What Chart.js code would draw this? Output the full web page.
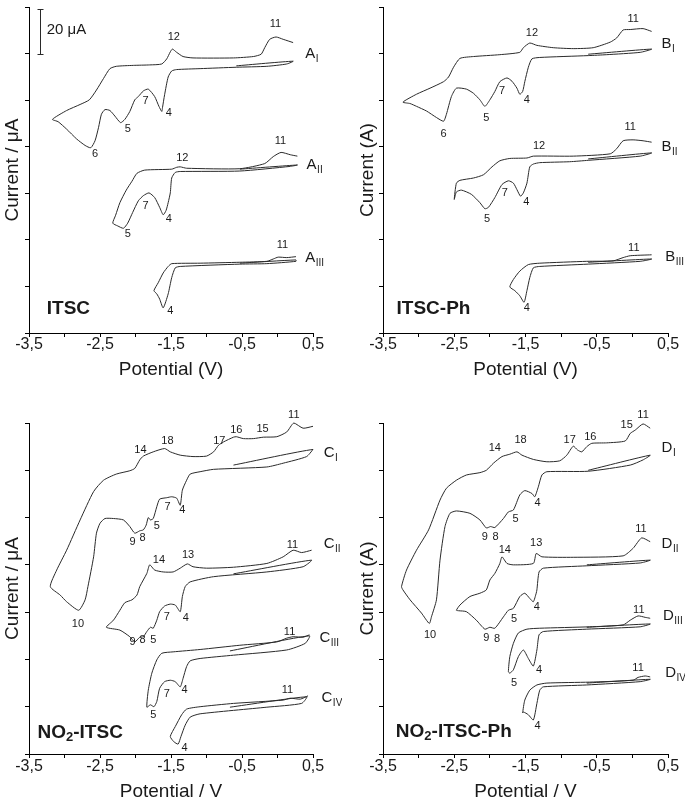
<!DOCTYPE html>
<html>
<head>
<meta charset="utf-8">
<script src="https://cdn.jsdelivr.net/npm/chart.js@4/dist/chart.umd.min.js"></script>
<style>
  body { margin: 0; background: #fff; width: 685px; height: 806px; position: relative; overflow: hidden; }
  canvas { position: absolute; }
</style>
</head>
<body>
<canvas id="cA" width="342" height="390" style="left:0;top:0"></canvas>
<canvas id="cB" width="345" height="390" style="left:340px;top:0"></canvas>
<canvas id="cC" width="342" height="411" style="left:0;top:395px"></canvas>
<canvas id="cD" width="345" height="411" style="left:340px;top:395px"></canvas>
<script>
const FONT = '"Liberation Sans", Arial, Helvetica, sans-serif';

// labelled potential ticks (others are unlabelled minor ticks every 0.5 V)
const potentialTickLabels = [-3.5, -2.5, -1.5, -0.5, 0.5];

// ---- ITSC (A) ----
const aIPot = [-0.58, 0.22, 0.13, -0.15, -0.58, -1.09, -1.42, -1.49, -1.54, -1.59, -1.62, -1.63, -1.67, -1.73, -1.82, -1.89, -1.96, -2.01, -2.08, -2.15, -2.21, -2.29, -2.36, -2.43, -2.48, -2.52, -2.57, -2.63, -2.71, -2.83, -2.97, -3.09, -3.17, -2.97, -2.78, -2.65, -2.55, -2.45, -2.36, -2.27, -2.03, -1.80, -1.63, -1.56, -1.51, -1.48, -1.42, -1.33, -1.19, -0.62, -0.34, -0.23, -0.18, -0.11, -0.02, 0.08, 0.22];
const aICur = [5.74, 5.84, 5.78, 5.73, 5.71, 5.68, 5.66, 5.63, 5.50, 5.12, 4.84, 4.76, 4.87, 5.08, 5.24, 5.20, 5.08, 5.01, 4.76, 4.59, 4.52, 4.66, 4.78, 4.80, 4.70, 4.42, 4.13, 3.98, 4.03, 4.17, 4.38, 4.54, 4.59, 4.78, 4.91, 5.01, 5.22, 5.47, 5.68, 5.73, 5.75, 5.76, 5.78, 5.89, 6.04, 6.10, 6.03, 5.94, 5.91, 5.91, 5.94, 5.99, 6.13, 6.31, 6.36, 6.31, 6.24];
const aIIPot = [-0.53, 0.28, 0.18, -0.53, -1.37, -1.44, -1.49, -1.51, -1.54, -1.57, -1.61, -1.66, -1.73, -1.81, -1.89, -1.96, -2.04, -2.11, -2.17, -2.25, -2.32, -2.28, -2.22, -2.13, -2.05, -1.98, -1.87, -1.49, -1.42, -1.37, -1.28, -0.53, -0.18, -0.06, 0.05, 0.18, 0.28];
const aIICur = [3.52, 3.61, 3.58, 3.48, 3.47, 3.45, 3.33, 3.01, 2.80, 2.63, 2.54, 2.70, 2.91, 3.01, 2.95, 2.84, 2.59, 2.36, 2.25, 2.30, 2.36, 2.53, 2.80, 3.07, 3.26, 3.43, 3.50, 3.52, 3.56, 3.57, 3.54, 3.53, 3.64, 3.79, 3.88, 3.83, 3.80];
const aIIIPot = [-0.53, 0.26, 0.26, -0.15, -0.53, -1.37, -1.44, -1.49, -1.54, -1.61, -1.66, -1.70, -1.74, -1.68, -1.61, -1.54, -1.49, -1.09, -0.53, -0.15, -0.06, 0.01, 0.13, 0.26];
const aIIICur = [1.50, 1.57, 1.54, 1.49, 1.48, 1.43, 1.40, 1.19, 0.84, 0.54, 0.73, 0.84, 0.91, 1.08, 1.29, 1.43, 1.49, 1.50, 1.52, 1.54, 1.59, 1.63, 1.62, 1.64];

// ---- ITSC-Ph (B) ----
const bIPot = [-0.62, 0.27, 0.11, -0.36, -0.62, -1.30, -1.41, -1.46, -1.51, -1.54, -1.58, -1.62, -1.69, -1.76, -1.86, -1.93, -2.00, -2.07, -2.14, -2.23, -2.33, -2.47, -2.54, -2.61, -2.65, -2.75, -2.89, -3.03, -3.12, -3.22, -3.03, -2.84, -2.65, -2.58, -2.51, -2.42, -2.23, -1.86, -1.58, -1.53, -1.44, -1.34, -1.11, -0.83, -0.55, -0.31, -0.22, -0.13, -0.03, 0.15, 0.27];
const bICur = [5.99, 6.10, 6.03, 5.98, 5.96, 5.92, 5.89, 5.71, 5.40, 5.19, 5.13, 5.26, 5.41, 5.48, 5.40, 5.19, 5.01, 4.87, 5.01, 5.15, 5.24, 5.26, 5.08, 4.70, 4.55, 4.63, 4.77, 4.87, 4.93, 4.96, 5.13, 5.26, 5.40, 5.50, 5.71, 5.90, 5.94, 5.98, 6.03, 6.13, 6.23, 6.18, 6.13, 6.11, 6.13, 6.25, 6.34, 6.51, 6.52, 6.54, 6.48];
const bIIPot = [-0.62, 0.27, 0.11, -0.62, -0.88, -1.30, -1.39, -1.44, -1.48, -1.53, -1.57, -1.62, -1.67, -1.74, -1.83, -1.93, -2.02, -2.07, -2.14, -2.26, -2.40, -2.47, -2.50, -2.47, -2.42, -2.23, -2.09, -1.97, -1.86, -1.72, -1.48, -1.39, -0.83, -0.31, -0.22, -0.13, 0.01, 0.15, 0.27];
const bIICur = [3.74, 3.87, 3.80, 3.71, 3.68, 3.66, 3.63, 3.57, 3.22, 3.01, 2.94, 3.08, 3.22, 3.27, 3.19, 2.91, 2.70, 2.67, 2.80, 2.98, 3.07, 3.03, 2.87, 3.22, 3.28, 3.33, 3.40, 3.57, 3.70, 3.75, 3.76, 3.80, 3.80, 3.85, 3.96, 4.13, 4.15, 4.13, 4.10];
const bIIIPot = [-0.62, 0.27, 0.11, -0.62, -1.30, -1.39, -1.44, -1.48, -1.52, -1.58, -1.65, -1.72, -1.67, -1.58, -1.46, -1.30, -0.64, -0.27, -0.13, -0.03, 0.27];
const bIIICur = [1.52, 1.59, 1.54, 1.48, 1.43, 1.40, 1.19, 0.91, 0.66, 0.80, 0.91, 0.99, 1.15, 1.33, 1.47, 1.50, 1.54, 1.55, 1.62, 1.66, 1.68];

// ---- NO2-ITSC (C) ----
const cIPot = [-0.62, 0.50, 0.41, 0.08, -0.15, -0.90, -1.09, -1.23, -1.28, -1.34, -1.37, -1.42, -1.49, -1.56, -1.66, -1.70, -1.75, -1.79, -1.82, -1.85, -1.89, -1.94, -2.01, -2.08, -2.17, -2.31, -2.43, -2.50, -2.55, -2.59, -2.67, -2.71, -2.80, -2.97, -3.06, -3.20, -3.11, -2.97, -2.78, -2.59, -2.45, -2.27, -2.08, -2.01, -1.94, -1.89, -1.75, -1.59, -1.51, -1.37, -1.19, -1.00, -0.90, -0.83, -0.76, -0.62, -0.58, -0.48, -0.34, -0.20, -0.01, 0.13, 0.23, 0.36, 0.50];
const cICur = [6.11, 6.44, 6.29, 6.15, 6.07, 6.02, 5.97, 5.92, 5.79, 5.58, 5.26, 5.41, 5.44, 5.42, 5.39, 5.23, 4.98, 4.95, 5.00, 4.84, 4.74, 4.72, 4.67, 4.81, 4.95, 4.98, 4.98, 4.88, 4.67, 4.17, 3.54, 3.26, 3.04, 3.22, 3.36, 3.54, 3.89, 4.31, 4.95, 5.55, 5.79, 5.92, 5.99, 6.04, 6.22, 6.30, 6.39, 6.46, 6.39, 6.32, 6.29, 6.30, 6.39, 6.53, 6.60, 6.70, 6.71, 6.67, 6.67, 6.70, 6.71, 6.81, 7.00, 6.89, 6.93];
const cIIPot = [-0.62, 0.48, 0.36, -0.15, -0.90, -1.23, -1.30, -1.34, -1.37, -1.44, -1.51, -1.59, -1.66, -1.70, -1.75, -1.79, -1.84, -1.89, -1.94, -2.01, -2.08, -2.22, -2.41, -2.31, -2.22, -2.15, -2.05, -1.98, -1.94, -1.84, -1.80, -1.73, -1.61, -1.47, -1.37, -1.27, -1.19, -1.00, -0.62, -0.15, 0.08, 0.22, 0.34, 0.48];
const cIICur = [3.81, 4.10, 3.96, 3.85, 3.75, 3.64, 3.54, 3.33, 3.01, 3.15, 3.17, 3.13, 3.01, 2.83, 2.66, 2.68, 2.59, 2.48, 2.47, 2.37, 2.48, 2.62, 2.68, 2.83, 3.04, 3.20, 3.26, 3.36, 3.54, 3.82, 4.00, 3.89, 3.85, 3.85, 3.93, 4.02, 3.96, 3.93, 3.95, 4.03, 4.17, 4.31, 4.26, 4.31];
const cIIIPot = [-0.67, 0.45, 0.39, 0.13, -0.62, -1.09, -1.23, -1.28, -1.33, -1.37, -1.44, -1.51, -1.59, -1.66, -1.70, -1.74, -1.79, -1.84, -1.82, -1.77, -1.70, -1.63, -1.47, -1.09, -0.53, -0.01, 0.13, 0.22, 0.36, 0.45];
const cIIICur = [2.18, 2.50, 2.34, 2.20, 2.09, 2.02, 1.97, 1.85, 1.60, 1.42, 1.53, 1.56, 1.53, 1.39, 1.11, 1.00, 1.04, 0.99, 1.35, 1.71, 1.99, 2.13, 2.16, 2.21, 2.30, 2.37, 2.45, 2.48, 2.47, 2.52];
const cIVPot = [-0.67, 0.41, 0.34, -0.15, -1.09, -1.23, -1.30, -1.36, -1.40, -1.46, -1.51, -1.44, -1.35, -1.28, -1.09, -0.62, 0.08, 0.18, 0.32, 0.43];
const cIVCur = [0.99, 1.21, 1.07, 0.99, 0.85, 0.78, 0.61, 0.37, 0.21, 0.26, 0.37, 0.58, 0.83, 0.95, 1.00, 1.07, 1.14, 1.18, 1.16, 1.23];

// ---- NO2-ITSC-Ph (D) ----
const dIPot = [-0.62, 0.25, 0.15, -0.03, -0.62, -1.20, -1.27, -1.32, -1.37, -1.41, -1.51, -1.58, -1.67, -1.74, -1.81, -1.93, -1.99, -2.05, -2.14, -2.28, -2.47, -2.56, -2.63, -2.70, -2.75, -2.82, -2.85, -2.96, -3.12, -3.22, -3.24, -3.17, -3.03, -2.86, -2.70, -2.61, -2.47, -2.33, -2.14, -2.05, -1.95, -1.83, -1.72, -1.62, -1.55, -1.39, -1.20, -1.02, -0.92, -0.83, -0.77, -0.71, -0.64, -0.57, -0.36, -0.10, -0.03, 0.04, 0.15, 0.25];
const dICur = [6.00, 6.32, 6.22, 6.11, 5.98, 5.97, 5.90, 5.65, 5.44, 5.51, 5.57, 5.48, 5.16, 5.12, 4.98, 4.79, 4.81, 4.78, 4.95, 5.09, 5.14, 5.09, 4.81, 4.10, 3.26, 2.90, 2.76, 2.98, 3.26, 3.47, 3.54, 3.89, 4.31, 4.74, 5.37, 5.62, 5.79, 5.90, 5.95, 6.00, 6.15, 6.29, 6.34, 6.39, 6.32, 6.23, 6.18, 6.20, 6.32, 6.51, 6.43, 6.39, 6.50, 6.57, 6.58, 6.62, 6.78, 6.85, 6.98, 6.89];
const dIIPot = [-0.64, 0.25, 0.11, -0.64, -1.25, -1.31, -1.34, -1.35, -1.39, -1.44, -1.51, -1.58, -1.67, -1.74, -1.81, -1.93, -2.00, -2.07, -2.19, -2.33, -2.44, -2.47, -2.42, -2.28, -2.14, -2.05, -2.00, -1.93, -1.86, -1.83, -1.76, -1.67, -1.39, -1.35, -1.27, -0.83, -0.13, 0.01, 0.13, 0.25];
const dIICur = [4.00, 4.10, 4.04, 3.98, 3.93, 3.85, 3.47, 3.40, 3.22, 3.29, 3.40, 3.33, 3.08, 3.04, 2.90, 2.66, 2.68, 2.64, 2.83, 3.01, 3.03, 3.04, 3.15, 3.33, 3.40, 3.47, 3.68, 3.82, 4.03, 4.17, 4.03, 4.00, 4.03, 4.24, 4.17, 4.16, 4.19, 4.35, 4.57, 4.49];
const dIIIPot = [-0.64, 0.25, 0.11, -0.64, -1.25, -1.31, -1.34, -1.39, -1.46, -1.53, -1.60, -1.67, -1.72, -1.74, -1.72, -1.67, -1.60, -1.48, -1.30, -0.60, -0.13, -0.03, 0.08, 0.18, 0.25];
const dIIICur = [2.68, 2.75, 2.69, 2.64, 2.59, 2.52, 2.20, 1.86, 2.02, 2.20, 2.06, 1.78, 1.71, 1.74, 2.06, 2.34, 2.56, 2.64, 2.66, 2.69, 2.73, 2.83, 2.92, 2.89, 2.87];
const dIVPot = [-0.64, 0.25, 0.11, -0.64, -1.25, -1.30, -1.34, -1.39, -1.46, -1.53, -1.54, -1.51, -1.44, -1.34, -1.20, -0.60, 0.01, 0.08, 0.18, 0.25];
const dIVCur = [1.50, 1.58, 1.53, 1.46, 1.42, 1.35, 1.07, 0.72, 0.83, 0.89, 0.87, 1.14, 1.35, 1.46, 1.50, 1.52, 1.56, 1.62, 1.65, 1.63];

// peak numbers [text, potential, current]
const aPeaks = [['12', -1.46, 6.36], ['11', -0.03, 6.63], ['7', -1.86, 4.98], ['4', -1.53, 4.73], ['5', -2.11, 4.39], ['6', -2.57, 3.85],
  ['12', -1.34, 3.77], ['11', 0.04, 4.12], ['7', -1.86, 2.72], ['4', -1.53, 2.46], ['5', -2.11, 2.12],
  ['11', 0.07, 1.89], ['4', -1.51, 0.48]];
const bPeaks = [['12', -1.41, 6.44], ['11', 0.01, 6.75], ['7', -1.83, 5.21], ['4', -1.48, 5.01], ['5', -2.05, 4.63], ['6', -2.65, 4.27],
  ['12', -1.31, 4.01], ['11', -0.03, 4.42], ['7', -1.79, 3.01], ['4', -1.49, 2.82], ['5', -2.04, 2.46],
  ['11', 0.02, 1.83], ['4', -1.48, 0.53]];
const cPeaks = [['11', 0.23, 7.17], ['15', -0.21, 6.87], ['16', -0.58, 6.85], ['17', -0.82, 6.62], ['18', -1.55, 6.62], ['14', -1.93, 6.44],
  ['7', -1.55, 5.23], ['4', -1.34, 5.17], ['5', -1.70, 4.82], ['9', -2.04, 4.49], ['8', -1.90, 4.56], ['10', -2.81, 2.76],
  ['11', 0.21, 4.42], ['14', -1.67, 4.10], ['13', -1.26, 4.21], ['7', -1.56, 2.89], ['4', -1.29, 2.87], ['9', -2.04, 2.37], ['8', -1.90, 2.41], ['5', -1.75, 2.41],
  ['11', 0.17, 2.59], ['7', -1.56, 1.28], ['4', -1.31, 1.35], ['5', -1.75, 0.83],
  ['11', 0.14, 1.35], ['4', -1.31, 0.12]];
const dPeaks = [['11', 0.15, 7.17], ['15', -0.08, 6.96], ['16', -0.59, 6.71], ['17', -0.88, 6.65], ['18', -1.57, 6.65], ['14', -1.93, 6.48],
  ['4', -1.33, 5.31], ['5', -1.64, 4.97], ['9', -2.07, 4.59], ['8', -1.92, 4.59], ['10', -2.84, 2.52],
  ['11', 0.12, 4.76], ['14', -1.79, 4.31], ['13', -1.35, 4.47], ['4', -1.34, 3.10], ['5', -1.66, 2.85], ['9', -2.05, 2.45], ['8', -1.90, 2.43],
  ['11', 0.09, 3.04], ['4', -1.31, 1.78], ['5', -1.66, 1.50],
  ['11', 0.08, 1.81], ['4', -1.33, 0.59]];

// curve names [letter, subscript, potential, current]
const aNames = [['A', 'I', 0.39, 5.90], ['A', 'II', 0.41, 3.52], ['A', 'III', 0.39, 1.52]];
const bNames = [['B', 'I', 0.41, 6.13], ['B', 'II', 0.41, 3.90], ['B', 'III', 0.46, 1.54]];
const cNames = [['C', 'I', 0.65, 6.29], ['C', 'II', 0.65, 4.36], ['C', 'III', 0.59, 2.37], ['C', 'IV', 0.62, 1.11]];
const dNames = [['D', 'I', 0.41, 6.39], ['D', 'II', 0.41, 4.36], ['D', 'III', 0.43, 2.83], ['D', 'IV', 0.46, 1.62]];

function curve(pot, cur) {
  return {
    data: pot.map((e, k) => ({ x: e, y: cur[k] })),
    showLine: true,
    borderColor: '#2a2a2a',
    borderWidth: 1,
    pointRadius: 0,
    tension: 0.2,
    clip: false
  };
}

const textPlugin = {
  id: 'cvText',
  afterDatasetsDraw(chart, args, o) {
    const { ctx, scales: { x, y } } = chart;
    ctx.save();
    ctx.fillStyle = '#1a1a1a';
    ctx.strokeStyle = '#2a2a2a';
    ctx.lineWidth = 1;

    ctx.font = '11px ' + FONT;
    ctx.textAlign = 'center';
    ctx.textBaseline = 'middle';
    o.peaks.forEach(([t, e, i]) => ctx.fillText(t, x.getPixelForValue(e), y.getPixelForValue(i)));

    // curve names with roman subscript
    ctx.textAlign = 'left';
    ctx.textBaseline = 'alphabetic';
    o.names.forEach(([l, s, e, i]) => {
      const px = x.getPixelForValue(e), py = y.getPixelForValue(i);
      ctx.font = '15px ' + FONT;
      ctx.fillText(l, px, py);
      const w = ctx.measureText(l).width;
      ctx.font = '10px ' + FONT;
      ctx.fillText(s, px + w + 0.5, py + 4);
    });

    // compound label (bold, "2" as subscript)
    ctx.textBaseline = 'middle';
    let px = x.getPixelForValue(o.panel.e);
    const py = y.getPixelForValue(o.panel.i);
    o.panel.parts.forEach(([t, sub]) => {
      ctx.font = (sub ? 'bold 13px ' : 'bold 19px ') + FONT;
      ctx.fillText(t, px, py + (sub ? 5 : 0));
      px += ctx.measureText(t).width;
    });

    if (o.bar) {
      const bx = Math.round(x.getPixelForValue(o.bar.e)) + 0.5;
      const y0 = Math.round(y.getPixelForValue(o.bar.from)) + 0.5;
      const y1 = Math.round(y.getPixelForValue(o.bar.to)) + 0.5;
      ctx.beginPath();
      ctx.moveTo(bx, y0); ctx.lineTo(bx, y1);
      ctx.moveTo(bx - 3, y0); ctx.lineTo(bx + 3, y0);
      ctx.moveTo(bx - 3, y1); ctx.lineTo(bx + 3, y1);
      ctx.stroke();
      ctx.font = '15px ' + FONT;
      ctx.textBaseline = 'middle';
      ctx.fillText(o.bar.text, x.getPixelForValue(o.bar.textE), y.getPixelForValue((o.bar.from + o.bar.to) / 2 + 0.03));
    }
    ctx.restore();
  }
};

function makePanel(id, curves, o) {
  new Chart(document.getElementById(id), {
    type: 'scatter',
    data: { datasets: curves.map(c => curve(c[0], c[1])) },
    options: {
      responsive: false,
      animation: false,
      events: [],
      layout: { padding: o.pad },
      plugins: {
        legend: { display: false },
        tooltip: { enabled: false },
        cvText: o.text
      },
      scales: {
        x: {
          type: 'linear',
          min: -3.5,
          max: 0.5,
          afterFit: s => { s.height = o.xHeight; },
          ticks: {
            stepSize: 0.5,
            autoSkip: false,
            maxRotation: 0,
            padding: o.tickPad,
            color: '#1a1a1a',
            font: { size: 16, family: FONT, lineHeight: 1 },
            callback: v => potentialTickLabels.some(t => Math.abs(t - v) < 1e-6) ? v.toFixed(1).replace('.', ',') : ''
          },
          grid: { drawOnChartArea: false, drawTicks: true, tickLength: 4, color: '#000' },
          border: { display: true, color: '#000', width: 1 },
          title: { display: true, text: o.xTitle, color: '#1a1a1a', font: { size: 19, family: FONT }, padding: { top: 0, bottom: o.xTitlePad } }
        },
        y: {
          type: 'linear',
          min: 0,
          max: 7,
          afterFit: s => { s.width = o.yWidth; },
          ticks: { stepSize: 1, callback: () => '', padding: 0 },
          grid: { drawOnChartArea: false, drawTicks: true, tickLength: 4, color: '#000' },
          border: { display: true, color: '#000', width: 1 },
          title: { display: true, text: o.yTitle, color: '#1a1a1a', font: { size: 19, family: FONT }, padding: { top: o.yTitlePad, bottom: 0 } }
        }
      }
    },
    plugins: [textPlugin]
  });
}

makePanel('cA', [[aIPot, aICur], [aIIPot, aIICur], [aIIIPot, aIIICur]], {
  pad: { left: 0, right: 29, top: 0, bottom: 0 }, xHeight: 57, yWidth: 29, tickPad: 0, xTitlePad: 9, yTitlePad: 1,
  xTitle: 'Potential (V)', yTitle: 'Current / \u03bcA',
  text: { peaks: aPeaks, names: aNames, panel: { parts: [['ITSC', false]], e: -3.25, i: 0.51 },
    bar: { e: -3.345, from: 5.99, to: 6.97, text: '20 \u03bcA', textE: -3.25 } }
});
makePanel('cB', [[bIPot, bICur], [bIIPot, bIICur], [bIIIPot, bIIICur]], {
  pad: { left: 0, right: 17, top: 0, bottom: 0 }, xHeight: 57, yWidth: 43, tickPad: 0, xTitlePad: 9, yTitlePad: 16,
  xTitle: 'Potential (V)', yTitle: 'Current (A)',
  text: { peaks: bPeaks, names: bNames, panel: { parts: [['ITSC-Ph', false]], e: -3.31, i: 0.53 } }
});
makePanel('cC', [[cIPot, cICur], [cIIPot, cIICur], [cIIIPot, cIIICur], [cIVPot, cIVCur]], {
  pad: { left: 0, right: 29, top: 28, bottom: 0 }, xHeight: 52, yWidth: 29, tickPad: 1, xTitlePad: 3, yTitlePad: 1,
  xTitle: 'Potential / V', yTitle: 'Current / \u03bcA',
  text: { peaks: cPeaks, names: cNames, panel: { parts: [['NO', false], ['2', true], ['-ITSC', false]], e: -3.38, i: 0.45 } }
});
makePanel('cD', [[dIPot, dICur], [dIIPot, dIICur], [dIIIPot, dIIICur], [dIVPot, dIVCur]], {
  pad: { left: 0, right: 17, top: 28, bottom: 0 }, xHeight: 52, yWidth: 43, tickPad: 1, xTitlePad: 3, yTitlePad: 16,
  xTitle: 'Potential / V', yTitle: 'Current (A)',
  text: { peaks: dPeaks, names: dNames, panel: { parts: [['NO', false], ['2', true], ['-ITSC-Ph', false]], e: -3.32, i: 0.47 } }
});
</script>
</body>
</html>
